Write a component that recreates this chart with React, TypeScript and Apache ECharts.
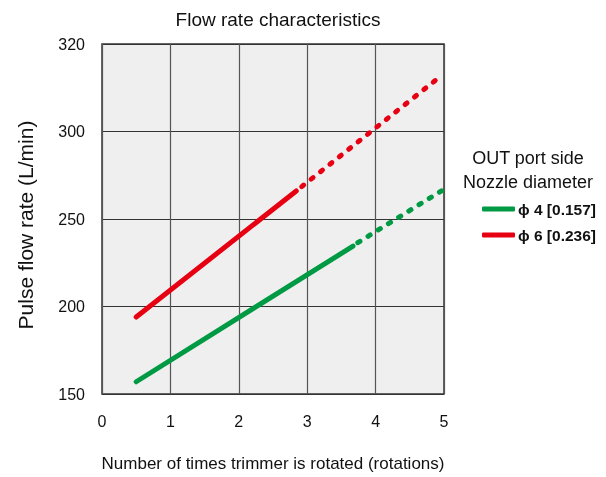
import React, { useEffect, useRef } from "react";
import * as echarts from "echarts";

const xTicks = [0, 1, 2, 3, 4, 5];
const yTickLabels: Record<number, string> = { 150: "150", 200: "200", 250: "250", 300: "300", 350: "320" };

const seriesNames = ["ϕ 4 [0.157]", "ϕ 6 [0.236]"];
const seriesColors = ["#009944", "#e60012"];

// phi 4: measured (solid) and extrapolated (dotted)
const phi4Solid = [[0.5, 157], [3.67, 234.5]];
const phi4Dotted = [[3.74, 236.5], [5, 267]];
// phi 6
const phi6Solid = [[0.5, 194], [2.84, 266]];
const phi6Dotted = [[2.92, 268.5], [4.9, 330]];

const legendTitle = ["OUT port side", "Nozzle diameter"];
const titleText = "Flow rate characteristics";
const xName = "Number of times trimmer is rotated (rotations)";
const yName = "Pulse flow rate (L/min)";

const FONT = "'Liberation Sans', Arial, Helvetica, sans-serif";

export default function App() {
  const ref = useRef<HTMLDivElement>(null);
  useEffect(() => {
    if (!ref.current) return;
    const chart = echarts.init(ref.current, undefined, { renderer: "svg" });
    const solid = (name: string, data: number[][], color: string) => ({
      name,
      type: "line",
      data,
      showSymbol: false,
      symbol: "none",
      lineStyle: { color, width: 5, cap: "round" },
      itemStyle: { color },
      z: 3,
    });
    const dotted = (name: string, data: number[][], color: string) => ({
      name,
      type: "line",
      data,
      showSymbol: false,
      symbol: "none",
      lineStyle: { color, width: 5, type: [2.5, 9.5], cap: "round" },
      itemStyle: { color },
      z: 3,
    });
    chart.setOption({
      animation: false,
      textStyle: { fontFamily: FONT },
      title: {
        text: titleText,
        left: 273,
        top: 5,
        textAlign: "center",
        textStyle: { fontFamily: FONT, fontSize: 19, fontWeight: "normal", color: "#111" },
      },
      grid: {
        left: 102,
        top: 44,
        width: 342,
        height: 352,
        show: true,
        backgroundColor: "#efefef",
        borderColor: "#333",
        borderWidth: 1.5,
      },
      legend: {
        data: seriesNames,
        orient: "vertical",
        left: 477,
        top: 196,
        itemWidth: 33,
        itemHeight: 5,
        itemGap: 10,
        icon: "roundRect",
        textStyle: { fontFamily: FONT, fontSize: 15.5, fontWeight: "bold", color: "#111", padding: [0, 0, 0, -2] },
      },
      graphic: legendTitle.map((t, i) => ({
        type: "text",
        x: 528,
        y: 158 + i * 24,
        style: {
          text: t,
          fontFamily: FONT,
          fontSize: 18,
          fill: "#111",
          textAlign: "center",
          textVerticalAlign: "middle",
        },
      })),
      xAxis: {
        type: "value",
        min: xTicks[0],
        max: xTicks[xTicks.length - 1],
        interval: 1,
        name: xName,
        nameLocation: "middle",
        nameGap: 61,
        nameTextStyle: { fontFamily: FONT, fontSize: 17, color: "#111" },
        axisLine: { show: false },
        axisTick: { show: false },
        axisLabel: { margin: 19, fontSize: 16, color: "#111", fontFamily: FONT },
        splitLine: { show: true, lineStyle: { color: "#555", width: 1.2 } },
      },
      yAxis: {
        type: "value",
        min: 150,
        max: 350,
        interval: 50,
        name: yName,
        nameLocation: "middle",
        nameGap: 66,
        nameTextStyle: { fontFamily: FONT, fontSize: 21, color: "#111", padding: [0, 12, 0, 0] },
        axisLine: { show: false },
        axisTick: { show: false },
        axisLabel: {
          margin: 17,
          fontSize: 16,
          color: "#111",
          fontFamily: FONT,
          padding: [0, 0, 6, 0],
          formatter: (v: number) => yTickLabels[v] ?? "",
        },
        splitLine: { show: true, lineStyle: { color: "#333", width: 1.2 } },
      },
      series: [
        solid(seriesNames[0], phi4Solid, seriesColors[0]),
        dotted(seriesNames[0] + " ext", phi4Dotted, seriesColors[0]),
        solid(seriesNames[1], phi6Solid, seriesColors[1]),
        dotted(seriesNames[1] + " ext", phi6Dotted, seriesColors[1]),
      ],
    });
    return () => chart.dispose();
  }, []);
  return <div ref={ref} style={{ position: "fixed", left: 0, top: 0, width: 606, height: 477 }} />;
}
